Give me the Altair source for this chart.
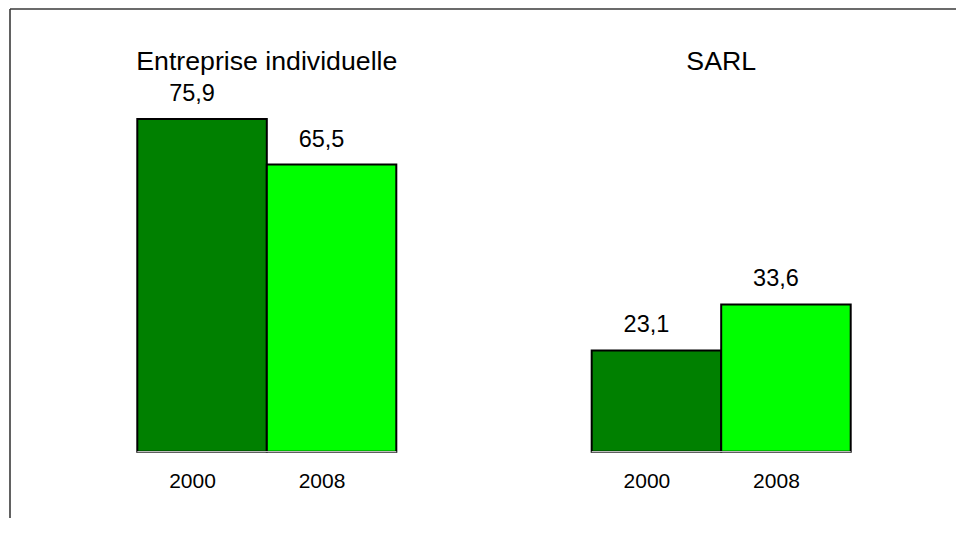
import altair as alt
import pandas as pd

# ---- data ----
groups = ["Entreprise individuelle", "SARL"]
years = ["2000", "2008"]
values_2000 = [75.9, 23.1]
values_2008 = [65.5, 33.6]
bar_colors = ["#008000", "#00FF00"]

rows = []
for g, v0, v8 in zip(groups, values_2000, values_2008):
    rows.append({"group": g, "year": years[0], "value": v0})
    rows.append({"group": g, "year": years[1], "value": v8})
df = pd.DataFrame(rows)
df_groups = pd.DataFrame({"group": groups})
df_one = pd.DataFrame({"k": [0]})

FONT = "Liberation Sans"
W, H = 948, 510

xscale = alt.Scale(domain=groups, range=[129.3, 842.7], paddingInner=0.43, paddingOuter=0)
offscale = alt.Scale(domain=years, paddingInner=0, paddingOuter=0)
yscale = alt.Scale(domain=[0, 101.2], range=[443.7, 0], nice=False, zero=True)

X = alt.X("group:N", scale=xscale, axis=None, sort=groups)
XO = alt.XOffset("year:N", scale=offscale, sort=years)

frame_top = alt.Chart(df_one).mark_rule(color="#3a3a3a", strokeWidth=1.6).encode(
    x=alt.value(2), x2=alt.value(W), y=alt.value(1)
)
frame_left = alt.Chart(df_one).mark_rule(color="#3a3a3a", strokeWidth=1.6).encode(
    x=alt.value(2), y=alt.value(1), y2=alt.value(H)
)

bars = alt.Chart(df).mark_bar(stroke="black", strokeWidth=2, opacity=1).encode(
    x=X,
    xOffset=XO,
    y=alt.Y("value:Q", scale=yscale, axis=None),
    color=alt.Color("year:N", scale=alt.Scale(domain=years, range=bar_colors), legend=None),
)

baseline = alt.Chart(df_groups).transform_calculate(zero="0").mark_bar(
    fillOpacity=0, stroke="#bdbdbd", strokeWidth=1.2
).encode(
    x=X,
    y=alt.Y("zero:Q", scale=yscale, axis=None),
    y2="zero:Q",
)

value_labels = alt.Chart(df).transform_calculate(
    label="replace(format(datum.value, '.1f'), '.', ',')"
).mark_text(font=FONT, fontSize=23.5, color="black", baseline="alphabetic", dx=-10, dy=-18).encode(
    x=X,
    xOffset=XO,
    y=alt.Y("value:Q", scale=yscale, axis=None),
    text="label:N",
)

year_labels = alt.Chart(df).mark_text(font=FONT, fontSize=21, color="black", baseline="alphabetic", dx=-9.5).encode(
    x=X,
    xOffset=XO,
    y=alt.value(479.7),
    text="year:N",
)

titles = alt.Chart(df_groups).mark_text(font=FONT, fontSize=26.7, color="black", baseline="alphabetic").encode(
    x=X,
    y=alt.value(62),
    text="group:N",
)

chart = alt.layer(
    frame_top, frame_left, bars, baseline, value_labels, year_labels, titles
).properties(
    width=W, height=H, padding=0, autosize=alt.AutoSizeParams(type="none"), background="white"
).configure_view(stroke=None)

chart.save("out.html", embed_options={"renderer": "svg", "actions": False})
